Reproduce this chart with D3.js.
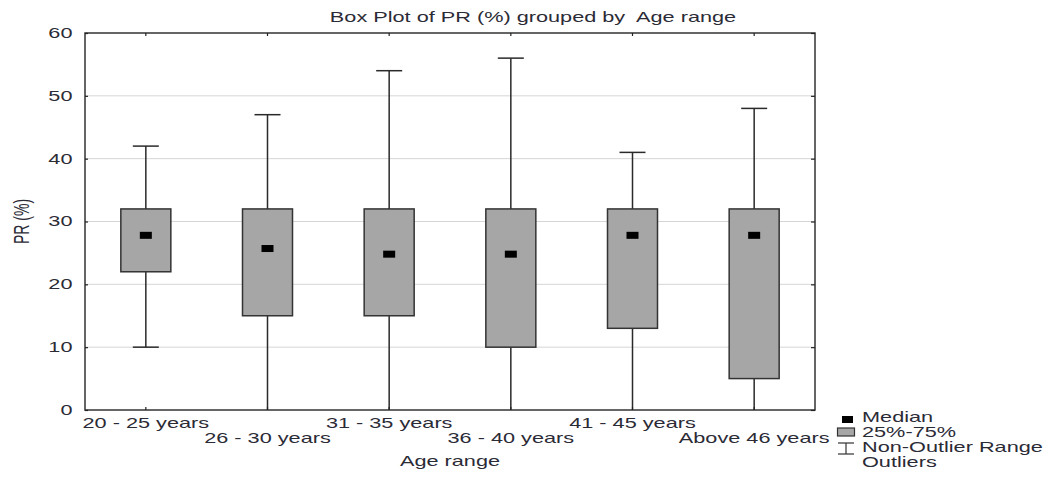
<!DOCTYPE html>
<html>
<head>
    <style>
        body{
            margin:0;
            background:#fff;
        }
        text {
            font-family: "Liberation Sans", Arial, sans-serif;
            fill: #2b2b36;
            white-space: pre;
        }
    </style>
    <script src="https://d3js.org/d3.v7.min.js"></script>
</head>
<body>
    <svg width="1051" height="477"></svg>

    <script>
        // data
        var groups   = ["20 - 25 years", "26 - 30 years", "31 - 35 years", "36 - 40 years", "41 - 45 years", "Above 46 years"];
        var mins     = [10, 0, 0, 0, 0, 0];
        var q1s      = [22, 15, 15, 10, 13, 5];
        var medians  = [27.8, 25.7, 24.8, 24.8, 27.8, 27.8];
        var q3s      = [32, 32, 32, 32, 32, 32];
        var maxs     = [42, 47, 54, 56, 41, 48];
        var yTicks   = [0, 10, 20, 30, 40, 50, 60];

        var svg = d3.select("svg"),
            margin = {top: 33, right: 236, bottom: 67, left: 85},
            width = 1051 - margin.left - margin.right,
            height = 477 - margin.top - margin.bottom;

        // the reference text is stretched sideways
        var sx = 1.55;
        var stretch = "scale(" + sx + ",1)";

        var g = svg.append("g")
                   .attr("transform", "translate(" + margin.left + "," + margin.top + ")");

        var x = d3.scaleBand().domain(groups).range([0, width]);
        var y = d3.scaleLinear().domain([0, 60]).range([height, 0]);

        var boxW = 50, capW = 26;

        // grid
        g.selectAll(".grid")
         .data(yTicks.filter(function(t) { return t > 0 && t < 60; }))
         .enter().append("line")
         .attr("x1", 0).attr("x2", width)
         .attr("y1", function(d) { return y(d); })
         .attr("y2", function(d) { return y(d); })
         .attr("stroke", "#d6d6d6")
         .attr("stroke-width", 1);

        var data = groups.map(function(k, i) {
            return {key: k, min: mins[i], q1: q1s[i], med: medians[i], q3: q3s[i], max: maxs[i], i: i};
        });

        var box = g.selectAll(".box")
                   .data(data)
                   .enter().append("g")
                   .attr("class", "box")
                   .attr("transform", function(d) { return "translate(" + (x(d.key) + x.bandwidth() / 2) + ",0)"; });

        // whiskers
        box.append("line")
           .attr("x1", 0).attr("x2", 0)
           .attr("y1", function(d) { return y(d.max); })
           .attr("y2", function(d) { return y(d.min); })
           .attr("stroke", "#2a2a2a").attr("stroke-width", 1.5);

        box.append("line")
           .attr("x1", -capW / 2).attr("x2", capW / 2)
           .attr("y1", function(d) { return y(d.max); })
           .attr("y2", function(d) { return y(d.max); })
           .attr("stroke", "#2a2a2a").attr("stroke-width", 1.5);

        box.filter(function(d) { return d.min > 0; })
           .append("line")
           .attr("x1", -capW / 2).attr("x2", capW / 2)
           .attr("y1", function(d) { return y(d.min); })
           .attr("y2", function(d) { return y(d.min); })
           .attr("stroke", "#2a2a2a").attr("stroke-width", 1.5);

        box.append("rect")
           .attr("x", -boxW / 2)
           .attr("width", boxW)
           .attr("y", function(d) { return y(d.q3); })
           .attr("height", function(d) { return y(d.q1) - y(d.q3); })
           .attr("fill", "#a6a6a6")
           .attr("stroke", "#333")
           .attr("stroke-width", 1.5);

        box.append("rect")
           .attr("x", -6)
           .attr("width", 12)
           .attr("y", function(d) { return y(d.med) - 3.5; })
           .attr("height", 7)
           .attr("fill", "#000");

        // frame
        g.append("rect")
         .attr("width", width).attr("height", height)
         .attr("fill", "none")
         .attr("stroke", "#333")
         .attr("stroke-width", 1.5);

        // axes
        var yAxis = g.append("g")
                     .call(d3.axisLeft(y).tickValues(yTicks).tickSizeInner(-3).tickSizeOuter(0));
        yAxis.select(".domain").remove();
        yAxis.selectAll("text")
             .style("font-size", "14px")
             .attr("fill", "#2b2b36")
             .attr("x", 0)
             .attr("transform", "translate(-12.5,0) " + stretch);

        var yAxisR = g.append("g")
                      .attr("transform", "translate(" + width + ",0)")
                      .call(d3.axisRight(y).tickValues(yTicks).tickSizeInner(-4).tickSizeOuter(0).tickFormat(""));
        yAxisR.select(".domain").remove();

        var xTop = g.append("g")
                    .call(d3.axisTop(x).tickSizeInner(-3).tickSizeOuter(0).tickFormat(""));
        xTop.select(".domain").remove();

        var xAxis = g.append("g")
                     .attr("transform", "translate(0," + height + ")")
                     .call(d3.axisBottom(x).tickSizeInner(-3).tickSizeOuter(0));
        xAxis.select(".domain").remove();
        xAxis.selectAll("text")
             .style("font-size", "14px")
             .attr("fill", "#2b2b36")
             .attr("y", function(d, i) { return i % 2 === 0 ? 18 : 33; })
             .attr("dy", 0)
             .attr("transform", stretch);

        g.selectAll(".tick line").attr("stroke", "#222").attr("stroke-width", 1.2);

        // labels
        svg.append("text")
           .attr("transform", "translate(533,22) " + stretch)
           .attr("text-anchor", "middle")
           .style("font-size", "14px")
           .text("Box Plot of PR (%) grouped by  Age range");

        svg.append("text")
           .attr("transform", "translate(" + (margin.left + width / 2) + ",466) " + stretch)
           .attr("text-anchor", "middle")
           .style("font-size", "14px")
           .text("Age range");

        svg.append("text")
           .attr("transform", "translate(29," + (margin.top + height / 2) + ") " + stretch + " rotate(-90)")
           .attr("text-anchor", "middle")
           .style("font-size", "14px")
           .text("PR (%)");

        // legend
        var legend = svg.append("g").attr("transform", "translate(837,410)");
        var items = ["Median", "25%-75%", "Non-Outlier Range", "Outliers"];
        legend.selectAll("text")
              .data(items)
              .enter().append("text")
              .attr("transform", function(d, i) { return "translate(25," + (12 + i * 15) + ") " + stretch; })
              .style("font-size", "14px")
              .text(function(d) { return d; });

        legend.append("rect").attr("x", 5).attr("y", 6).attr("width", 11).attr("height", 7).attr("fill", "#000");
        legend.append("rect").attr("x", 0.5).attr("y", 18).attr("width", 17).attr("height", 8)
              .attr("fill", "#a6a6a6").attr("stroke", "#333").attr("stroke-width", 1.2);
        legend.append("line").attr("x1", 9).attr("x2", 9).attr("y1", 33).attr("y2", 44).attr("stroke", "#333").attr("stroke-width", 1.2);
        legend.append("line").attr("x1", 1).attr("x2", 17).attr("y1", 33).attr("y2", 33).attr("stroke", "#333").attr("stroke-width", 1.2);
        legend.append("line").attr("x1", 1).attr("x2", 17).attr("y1", 44).attr("y2", 44).attr("stroke", "#333").attr("stroke-width", 1.2);
    </script>
</body>
</html>
